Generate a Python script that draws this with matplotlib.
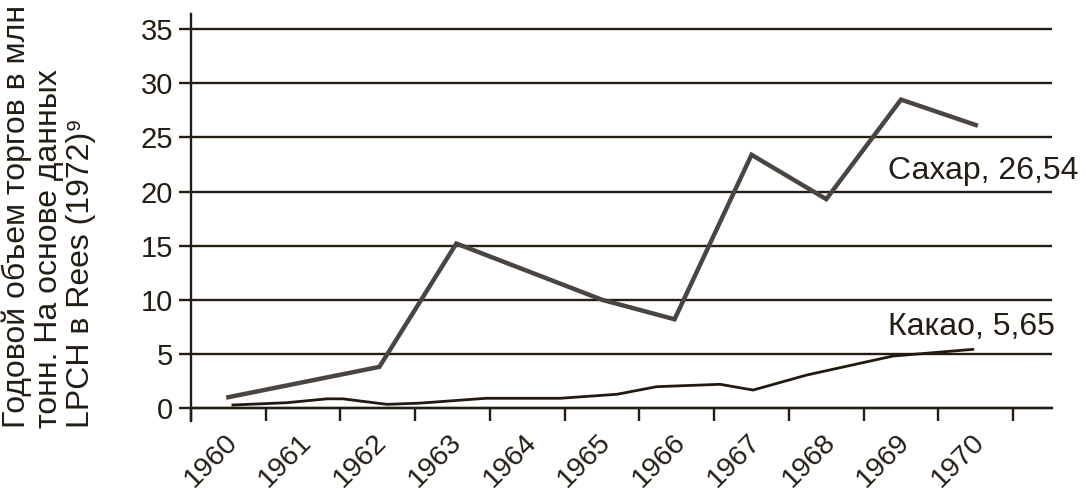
import matplotlib
matplotlib.use('Agg')
import matplotlib.pyplot as plt
import matplotlib.transforms as mtransforms

# ---- data ----
years = list(range(1960, 1971))
year_labels = [str(y) for y in years]
y_ticks = [0, 5, 10, 15, 20, 25, 30, 35]

sugar_x = [1960.0, 1962.02, 1963.05, 1965.0, 1965.97, 1967.0, 1968.0, 1969.0, 1970.0]
sugar_y = [1.0, 3.8, 15.2, 10.0, 8.2, 23.4, 19.3, 28.5, 26.15]

cocoa_x = [1960.06, 1960.78, 1961.32, 1961.53, 1962.12, 1962.56, 1963.45, 1964.44,
           1965.2, 1965.73, 1966.58, 1967.02, 1967.74, 1968.89, 1969.96]
cocoa_y = [0.28, 0.49, 0.85, 0.85, 0.34, 0.45, 0.9, 0.9,
           1.27, 1.97, 2.19, 1.66, 3.05, 4.8, 5.42]

sugar_label = "Сахар, 26,54"
cocoa_label = "Какао, 5,65"
y_title = "Годовой объем торгов в млн\nтонн. На основе данных\nLPCH в Rees (1972)⁹"

# ---- style ----
plt.rcParams['font.family'] = ['Liberation Sans', 'DejaVu Sans']
INK = '#241d14'
SUGAR_C = '#4a4540'
COCOA_C = '#231a0f'

W, H = 1086, 493
fig = plt.figure(figsize=(W / 100, H / 100), dpi=100)
ax = fig.add_axes([191 / W, 1 - 421 / H, (1052 - 191) / W, (421 - 14) / H])

ax.set_xlim(1959.5, 1971.02)
ax.set_ylim(-1.2, 36.41)

# grid
ax.set_yticks(y_ticks)
ax.yaxis.grid(True, color=INK, lw=1.7)
ax.set_axisbelow(True)

# lines
ax.plot(sugar_x, sugar_y, color=SUGAR_C, lw=3.2, solid_joinstyle='miter', zorder=3)
ax.plot(cocoa_x, cocoa_y, color=COCOA_C, lw=2.0, zorder=3)

# labels on lines
ax.text(1968.83, 21.2, sugar_label, fontsize=23, color=INK, ha='left', va='baseline')
ax.text(1968.83, 6.75, cocoa_label, fontsize=23, color=INK, ha='left', va='baseline')

# spines
for s in ['top', 'right']:
    ax.spines[s].set_visible(False)
ax.spines['bottom'].set_position(('data', 0))
ax.spines['bottom'].set_color(INK)
ax.spines['bottom'].set_linewidth(1.7)
ax.spines['left'].set_color(INK)
ax.spines['left'].set_linewidth(1.7)

# x ticks
ax.set_xticks(years)
ax.set_xticklabels(year_labels, rotation=45, ha='right', va='center',
                   rotation_mode='anchor', fontsize=20.5, color=INK)
ax.set_xticks([1959.5 + k for k in range(12)], minor=True)
ax.tick_params(axis='x', which='major', length=0, pad=22)
ax.tick_params(axis='x', which='minor', length=9, width=1.7, color=INK, direction='out')
offset = mtransforms.ScaledTranslation(5 / 100, 0, fig.dpi_scale_trans)
for lab in ax.get_xticklabels():
    lab.set_transform(lab.get_transform() + offset)

# y ticks
ax.tick_params(axis='y', which='major', length=9, width=1.7, color=INK,
               labelsize=21, labelcolor=INK, pad=4)

# y title
fig.text(1 / W, 1 - 428 / H, y_title, rotation=90, ha='left', va='bottom',
         multialignment='left', fontsize=23, color=INK, linespacing=1.1)

fig.savefig('out.png', dpi=100)
